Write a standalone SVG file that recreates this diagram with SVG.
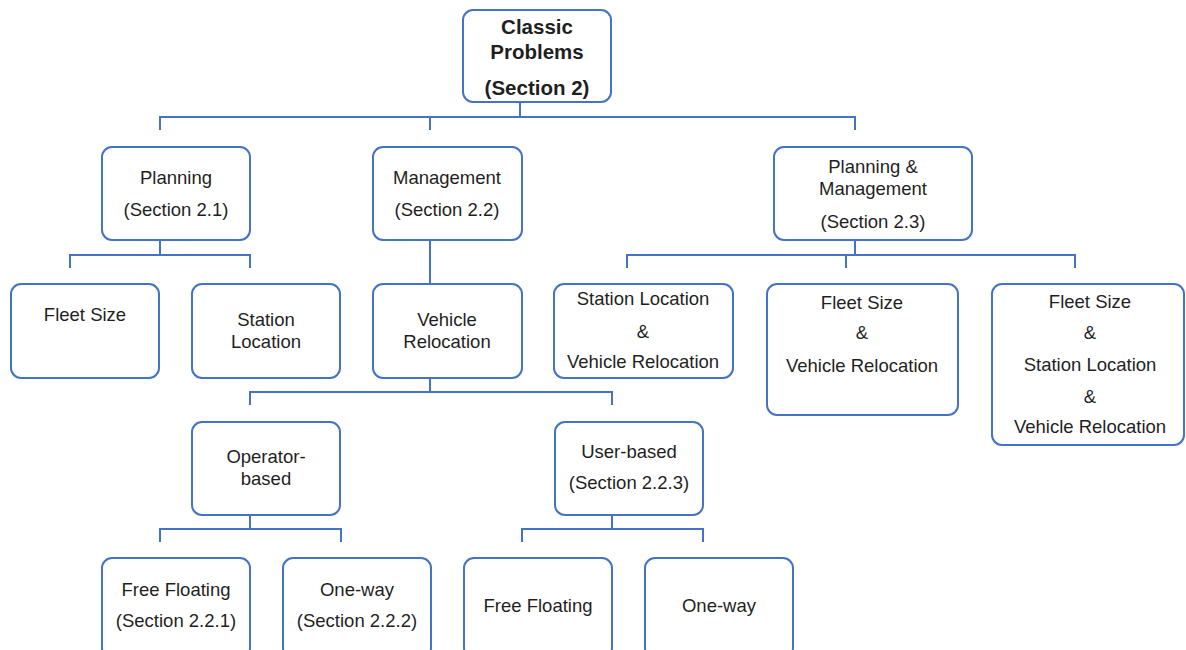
<svg xmlns="http://www.w3.org/2000/svg" width="1186" height="650" viewBox="0 0 1186 650">
  <style>
    .box { fill: #ffffff; stroke: #4472c4; stroke-width: 2; }
    .wire { fill: none; stroke: #4472c4; stroke-width: 2; }
    text { font-family: "Liberation Sans", Arial, sans-serif; font-size: 18.5px; fill: #1f1f1f; text-anchor: middle; }
    .title { font-size: 20.5px; font-weight: bold; }
  </style>
  <rect width="1186" height="650" fill="#ffffff"/>

  <!-- connectors -->
  <g id="connectors">
    <path class="wire" d="M520 102V117M160 130V117H855V130M430 117V130"/>
    <path class="wire" d="M160 240V255M70 268V255H250V268"/>
    <path class="wire" d="M430 240V284"/>
    <path class="wire" d="M855 240V255M627 268V255H1075V268M846 255V268"/>
    <path class="wire" d="M430 378V392M250 405V392H612V405"/>
    <path class="wire" d="M250 515V529M160 542V529H341V542"/>
    <path class="wire" d="M612 515V529M522 542V529H703V542"/>
  </g>

  <!-- root -->
  <g id="classic-problems">
    <rect class="box" x="463" y="10" width="148" height="92" rx="10"/>
    <text class="title" x="537" y="34">Classic</text>
    <text class="title" x="537" y="59">Problems</text>
    <text class="title" x="537" y="95">(Section 2)</text>
  </g>

  <!-- second level -->
  <g id="planning">
    <rect class="box" x="102" y="147" width="148" height="93" rx="10"/>
    <text x="176" y="184">Planning</text>
    <text x="176" y="216">(Section 2.1)</text>
  </g>
  <g id="management">
    <rect class="box" x="373" y="147" width="149" height="93" rx="10"/>
    <text x="447" y="184">Management</text>
    <text x="447" y="216">(Section 2.2)</text>
  </g>
  <g id="planning-management">
    <rect class="box" x="774" y="147" width="198" height="93" rx="10"/>
    <text x="873" y="173">Planning &amp;</text>
    <text x="873" y="195">Management</text>
    <text x="873" y="228">(Section 2.3)</text>
  </g>

  <!-- third level -->
  <g id="fleet-size">
    <rect class="box" x="11" y="284" width="148" height="94" rx="10"/>
    <text x="85" y="321">Fleet Size</text>
  </g>
  <g id="station-location">
    <rect class="box" x="192" y="284" width="148" height="94" rx="10"/>
    <text x="266" y="326">Station</text>
    <text x="266" y="348">Location</text>
  </g>
  <g id="vehicle-relocation">
    <rect class="box" x="373" y="284" width="149" height="94" rx="10"/>
    <text x="447" y="326">Vehicle</text>
    <text x="447" y="348">Relocation</text>
  </g>
  <g id="station-vehicle">
    <rect class="box" x="554" y="284" width="179" height="94" rx="10"/>
    <text x="643" y="305">Station Location</text>
    <text x="643" y="338">&amp;</text>
    <text x="643" y="368">Vehicle Relocation</text>
  </g>
  <g id="fleet-vehicle">
    <rect class="box" x="767" y="284" width="191" height="131" rx="10"/>
    <text x="862" y="309">Fleet Size</text>
    <text x="862" y="339">&amp;</text>
    <text x="862" y="372">Vehicle Relocation</text>
  </g>
  <g id="fleet-station-vehicle">
    <rect class="box" x="992" y="284" width="192" height="161" rx="10"/>
    <text x="1090" y="308">Fleet Size</text>
    <text x="1090" y="339">&amp;</text>
    <text x="1090" y="371">Station Location</text>
    <text x="1090" y="403">&amp;</text>
    <text x="1090" y="433">Vehicle Relocation</text>
  </g>

  <!-- relocation strategies -->
  <g id="operator-based">
    <rect class="box" x="192" y="422" width="148" height="93" rx="10"/>
    <text x="266" y="463">Operator-</text>
    <text x="266" y="485">based</text>
  </g>
  <g id="user-based">
    <rect class="box" x="555" y="422" width="148" height="93" rx="10"/>
    <text x="629" y="458">User-based</text>
    <text x="629" y="489">(Section 2.2.3)</text>
  </g>

  <!-- leaves -->
  <g id="operator-free-floating">
    <rect class="box" x="102" y="558" width="148" height="100" rx="10"/>
    <text x="176" y="596">Free Floating</text>
    <text x="176" y="627">(Section 2.2.1)</text>
  </g>
  <g id="operator-one-way">
    <rect class="box" x="283" y="558" width="148" height="100" rx="10"/>
    <text x="357" y="596">One-way</text>
    <text x="357" y="627">(Section 2.2.2)</text>
  </g>
  <g id="user-free-floating">
    <rect class="box" x="464" y="558" width="148" height="100" rx="10"/>
    <text x="538" y="612">Free Floating</text>
  </g>
  <g id="user-one-way">
    <rect class="box" x="645" y="558" width="148" height="100" rx="10"/>
    <text x="719" y="612">One-way</text>
  </g>
</svg>
